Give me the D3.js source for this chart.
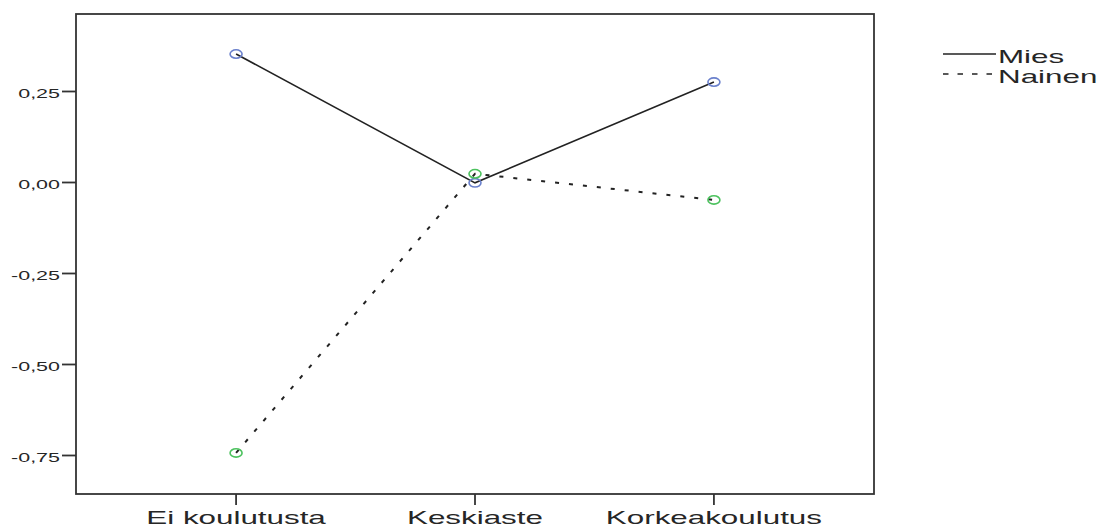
<!DOCTYPE html>
<html><head><meta charset="utf-8">
<script src="https://cdn.jsdelivr.net/npm/d3@7"></script>
<style>body{margin:0;background:#fff}svg{display:block}text{font-family:"Liberation Sans",Arial,sans-serif;fill:#262626}</style>
</head><body><svg id="c" width="1100" height="528"></svg>
<script>
const categories = ["Ei koulutusta", "Keskiaste", "Korkeakoulutus"];
const miesValues = [0.353, -0.001, 0.276];
const nainenValues = [-0.743, 0.024, -0.048];
const yTicks = [0.25, 0.0, -0.25, -0.5, -0.75];
const seriesNames = ["Mies", "Nainen"];

const svg = d3.select("#c");
const L = 76, R = 874, T = 14, B = 494;
const SX = 1.65;
const x = d3.scalePoint().domain(categories).range([L, R]).padding(0.67);
const y = d3.scaleLinear().domain([-0.8558, 0.4629]).range([B, T]);
const fmt = v => d3.format(".2f")(v).replace(".", ",").replace("−", "-");

function stretch(sel){
  sel.each(function(){
    const w = this.getComputedTextLength();
    d3.select(this).attr("textLength", w * SX).attr("lengthAdjust", "spacingAndGlyphs");
  });
}

// frame
svg.append("rect").attr("x", L).attr("y", T).attr("width", R - L).attr("height", B - T)
  .attr("fill", "none").attr("stroke", "#333").attr("stroke-width", 1.8);

// y axis ticks
const yg = svg.append("g");
yg.selectAll("line").data(yTicks).join("line")
  .attr("x1", 62).attr("x2", L).attr("y1", d => y(d)).attr("y2", d => y(d))
  .attr("stroke", "#333").attr("stroke-width", 1.8);
const yt = yg.selectAll("text").data(yTicks).join("text")
  .attr("x", 60).attr("y", d => y(d) + 7).attr("text-anchor", "end")
  .attr("font-size", 13).text(fmt);
stretch(yt);

// x axis ticks
const xg = svg.append("g");
xg.selectAll("line").data(categories).join("line")
  .attr("x1", d => x(d)).attr("x2", d => x(d)).attr("y1", B).attr("y2", 505)
  .attr("stroke", "#333").attr("stroke-width", 1.8);
const xt = xg.selectAll("text").data(categories).join("text")
  .attr("x", d => x(d)).attr("y", 524).attr("text-anchor", "middle")
  .attr("font-size", 19).text(d => d);
stretch(xt);

const line = d3.line().x(d => x(d.c)).y(d => y(d.v));
const mies = categories.map((c, i) => ({c, v: miesValues[i]}));
const nainen = categories.map((c, i) => ({c, v: nainenValues[i]}));

svg.append("path").datum(mies).attr("d", line).attr("fill", "none")
  .attr("stroke", "#222").attr("stroke-width", 1.6);
svg.append("path").datum(nainen).attr("d", line).attr("fill", "none")
  .attr("stroke", "#222").attr("stroke-width", 2).attr("stroke-dasharray", "4,10");

svg.append("g").selectAll("ellipse").data(mies).join("ellipse")
  .attr("cx", d => x(d.c)).attr("cy", d => y(d.v)).attr("rx", 6).attr("ry", 4.2)
  .attr("fill", "none").attr("stroke", "#6a80cc").attr("stroke-width", 1.6);
svg.append("g").selectAll("ellipse").data(nainen).join("ellipse")
  .attr("cx", d => x(d.c)).attr("cy", d => y(d.v)).attr("rx", 6).attr("ry", 4.2)
  .attr("fill", "none").attr("stroke", "#4cc25e").attr("stroke-width", 1.6);

// legend
const lg = svg.append("g");
lg.append("line").attr("x1", 943).attr("x2", 996).attr("y1", 54).attr("y2", 54)
  .attr("stroke", "#222").attr("stroke-width", 1.6);
lg.append("line").attr("x1", 943).attr("x2", 996).attr("y1", 74).attr("y2", 74)
  .attr("stroke", "#222").attr("stroke-width", 1.6).attr("stroke-dasharray", "5.5,9");
const lt = lg.selectAll("text").data(seriesNames).join("text")
  .attr("x", 998).attr("y", (d, i) => 63 + i * 20).attr("font-size", 19).text(d => d);
stretch(lt);
</script></body></html>
